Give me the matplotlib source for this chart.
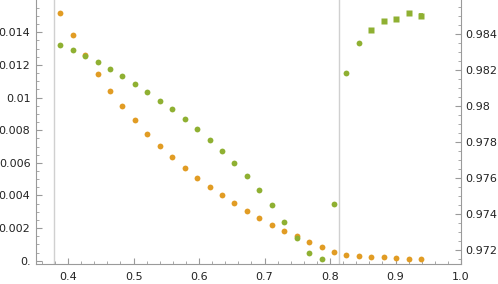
import matplotlib.pyplot as plt
from matplotlib.ticker import MultipleLocator, FuncFormatter

# x positions shared by both series
x = [0.388, 0.407, 0.426, 0.445, 0.464, 0.483, 0.502, 0.521, 0.540, 0.559,
     0.578, 0.597, 0.616, 0.635, 0.654, 0.673, 0.692, 0.711, 0.730, 0.749,
     0.768, 0.787, 0.806, 0.825, 0.844, 0.863, 0.882, 0.901, 0.920, 0.939]

# orange series (left axis)
orange = [0.01521, 0.01383, 0.0126, 0.01146, 0.01043, 0.00947, 0.0086, 0.00778,
          0.00703, 0.00633, 0.00569, 0.0051, 0.00452, 0.00401, 0.00352, 0.00305,
          0.00262, 0.0022, 0.00184, 0.00149, 0.00114, 0.00083, 0.00054, 0.00034,
          0.00028, 0.00024, 0.0002, 0.00015, 0.00013, 0.00011]

# green series (right axis)
green = [0.98341, 0.98309, 0.98278, 0.98243, 0.98204, 0.98165, 0.98122, 0.98078,
         0.98029, 0.97982, 0.97929, 0.97874, 0.97813, 0.9775, 0.97683, 0.97611,
         0.97532, 0.97448, 0.97357, 0.97265, 0.97182, 0.97148, 0.97454, 0.98182,
         0.98348, 0.98422, 0.98472, 0.98482, 0.98515, 0.98502]
green_err = [0] * 25 + [0.00007, 0.00008, 0.00008, 0.00009, 0.00009]

vlines = [0.3786, 0.813]

c_orange = '#E19C24'
c_green = '#8FB032'
axis_gray = '#9a9a9a'

plt.rcParams['font.family'] = 'DejaVu Sans'
plt.rcParams['font.size'] = 8

fig = plt.figure(figsize=(4.98, 2.84), dpi=100)
ax = fig.add_axes([36 / 498, 20 / 284, 425 / 498, 264 / 284])
ax2 = ax.twinx()

for v in vlines:
    ax.axvline(v, color='#d0d0d0', lw=1, zorder=0)

ax.plot(x, orange, 'o', color=c_orange, ms=4.2, mec='none')
ax2.plot(x[:25], green[:25], 'o', color=c_green, ms=4.2, mec='none')
ax2.errorbar(x[25:], green[25:], yerr=green_err[25:], fmt='s', color=c_green,
             ms=3.8, mec='none', elinewidth=1.0, capsize=1.6, capthick=1.2)

ax.set_xlim(0.351, 1.0)
ax.set_ylim(-0.0002, 0.01598)
ax2.set_ylim(0.97122, 0.98589)

def fmt(v, pos):
    if abs(v) < 1e-12:
        return '0.'
    s = ('%.3f' % v).rstrip('0')
    return s

def fmtx(v, pos):
    return '%.1f' % v

ax.xaxis.set_major_locator(MultipleLocator(0.1))
ax.xaxis.set_minor_locator(MultipleLocator(0.02))
ax.xaxis.set_major_formatter(FuncFormatter(fmtx))
ax.yaxis.set_major_locator(MultipleLocator(0.002))
ax.yaxis.set_minor_locator(MultipleLocator(0.0005))
ax.yaxis.set_major_formatter(FuncFormatter(fmt))
ax2.yaxis.set_major_locator(MultipleLocator(0.002))
ax2.yaxis.set_minor_locator(MultipleLocator(0.0005))
ax2.yaxis.set_major_formatter(FuncFormatter(fmt))

for a in (ax, ax2):
    a.spines['top'].set_visible(False)
    for s in a.spines.values():
        s.set_color(axis_gray)
    a.tick_params(which='both', direction='in', color=axis_gray, labelcolor='#222222')
    a.tick_params(which='major', length=4, width=0.8, pad=4)
    a.tick_params(which='minor', length=2, width=0.6)
ax.tick_params(axis='x', which='major', pad=6)
ax2.tick_params(axis='y', which='major', pad=3)
ax.spines['right'].set_visible(False)
ax2.spines['left'].set_visible(False)
ax2.spines['bottom'].set_visible(False)

fig.savefig('out.png', dpi=100)
